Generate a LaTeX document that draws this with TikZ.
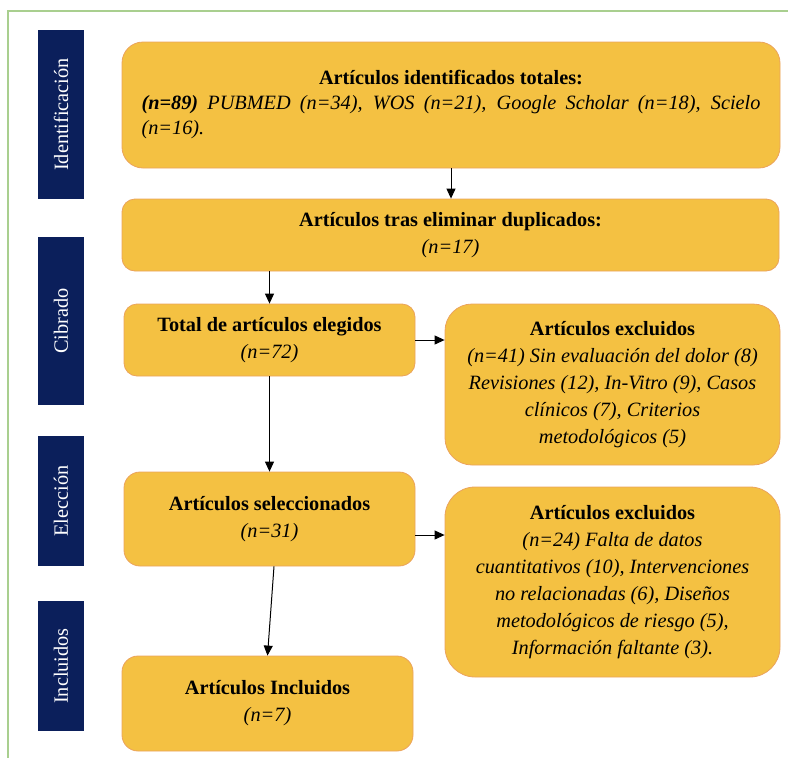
\documentclass[tikz,border=0pt]{standalone}
\usepackage{fontspec}
\setmainfont{Liberation Serif}
\usetikzlibrary{arrows.meta,calc}

\definecolor{cajaamarilla}{HTML}{F4C142}
\definecolor{bordecaja}{HTML}{EBA35C}
\definecolor{azulfase}{HTML}{0B1F5B}
\definecolor{verdemarco}{HTML}{A9CF8F}

\tikzset{
  caja/.style={draw=bordecaja,fill=cajaamarilla,line width=0.8pt,inner sep=0pt,align=center,font=\fontsize{20.3}{27}\selectfont},
  fase/.style={fill=azulfase,text=white,rotate=90,inner sep=0pt,minimum height=46pt,font=\fontsize{20.3}{24}\selectfont},
  flecha/.style={-{Triangle[width=9pt,length=10pt]},line width=1pt},
}

\begin{document}
\begin{tikzpicture}[x=1pt,y=-1pt]
		\useasboundingbox (0,0) rectangle (788,758);
		\draw[verdemarco,line width=1.2pt] (8,758)--(8,11)--(788,11);
		
		% fases
		\node[fase,minimum width=169pt] (ident) at (61,114.5) {Identificación};
		\node[fase,minimum width=168pt] (cibrado) at (61,321) {Cibrado};
		\node[fase,minimum width=130pt] (eleccion) at (61,501) {Elección};
		\node[fase,minimum width=130pt] (incl) at (61,666) {Incluidos};
		
		% cajas
		\node[caja,minimum width=658pt,minimum height=126pt,rounded corners=21pt] (totales) at (451,105) {\parbox{619pt}{\fontsize{20.3}{25}\selectfont{\centering\textbf{Artículos identificados totales:}\par}\textbf{\textit{(n=89)}} \textit{PUBMED (n=34), WOS (n=21), Google Scholar (n=18), Scielo (n=16).}}};
		\node[caja,minimum width=657pt,minimum height=72pt,rounded corners=13pt] (duplicados) at (450.5,235) {\textbf{Artículos tras eliminar duplicados:}\\\textit{(n=17)}};
		\node[caja,minimum width=291pt,minimum height=72pt,rounded corners=13pt] (elegidos) at (269.5,340) {\textbf{Total de artículos elegidos}\\\textit{(n=72)}};
		\node[caja,minimum width=335pt,minimum height=161pt,rounded corners=27pt] (excl1) at (612.5,384.5) {\textbf{Artículos excluidos}\\\textit{(n=41) Sin evaluación del dolor (8)}\\\textit{Revisiones (12), In-Vitro (9), Casos}\\\textit{clínicos (7), Criterios}\\\textit{metodológicos (5)}};
		\node[caja,minimum width=291pt,minimum height=94pt,rounded corners=16pt] (seleccion) at (269.5,519) {\textbf{Artículos seleccionados}\\\textit{(n=31)}};
		\node[caja,minimum width=335pt,minimum height=190pt,rounded corners=30pt] (excl2) at (612.5,582) {\textbf{Artículos excluidos}\\\textit{(n=24) Falta de datos}\\\textit{cuantitativos (10), Intervenciones}\\\textit{no relacionadas (6), Diseños}\\\textit{metodológicos de riesgo (5),}\\\textit{Información faltante (3).}};
		\node[caja,minimum width=291pt,minimum height=95pt,rounded corners=16pt] (incluidos) at (267.5,703.5) {\textbf{Artículos Incluidos}\\\textit{(n=7)}};
		
		% flechas
		\coordinate (salida) at ($(seleccion.east)+(0,16)$);
		\coordinate (bajada) at ($(seleccion.south)+(4.5,0)$);
		\draw[flecha] (totales.south)--(totales.south |- duplicados.north);
		\draw[flecha] (elegidos.north |- duplicados.south)--(elegidos.north);
		\draw[flecha] (elegidos.east)--(elegidos.east -| excl1.west);
		\draw[flecha] (elegidos.south)--(seleccion.north);
		\draw[flecha] (salida)--(salida -| excl2.west);
		\draw[flecha] (bajada)--(incluidos.north);
	\end{tikzpicture}
\end{document}
